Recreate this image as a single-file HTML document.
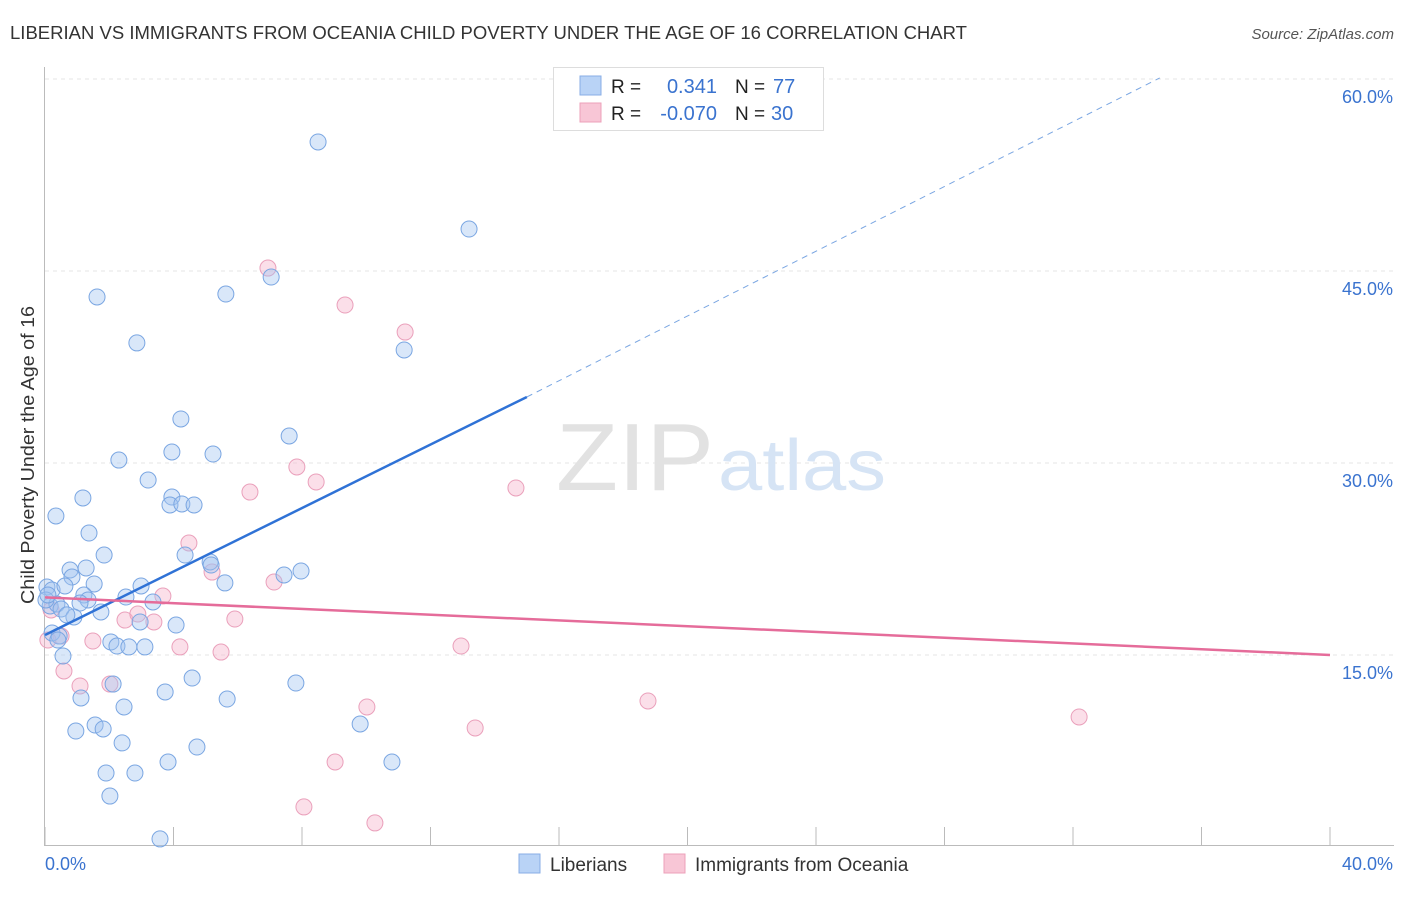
<!DOCTYPE html>
<html><head><meta charset="utf-8"><style>
body{margin:0;background:#fff;font-family:"Liberation Sans",sans-serif;}
svg text{font-family:"Liberation Sans",sans-serif;}
</style></head><body>
<svg id="chart" width="1406" height="892">
<text x="10" y="39" font-size="18" fill="#333" textLength="957" lengthAdjust="spacingAndGlyphs">LIBERIAN VS IMMIGRANTS FROM OCEANIA CHILD POVERTY UNDER THE AGE OF 16 CORRELATION CHART</text>
<text x="1394" y="39" font-size="15" fill="#555" font-style="italic" text-anchor="end">Source: ZipAtlas.com</text>
<text x="34" y="455" font-size="18" fill="#333" text-anchor="middle" textLength="298" lengthAdjust="spacingAndGlyphs" transform="rotate(-90 34 455)">Child Poverty Under the Age of 16</text>
<g id="grid"></g>
<text x="714" y="490" font-size="96" fill="#e2e2e2" text-anchor="end" font-family="Liberation Serif" textLength="158" lengthAdjust="spacingAndGlyphs">ZIP</text>
<text x="718" y="490" font-size="72" fill="#d6e4f5" textLength="168" lengthAdjust="spacingAndGlyphs">atlas</text>
<g id="marks"></g>
<g>
<rect x="553.5" y="67.5" width="270" height="63" fill="#fff" stroke="#ddd"/>
<rect x="580" y="76" width="21" height="19" fill="#b9d3f6" stroke="#88aee6"/>
<rect x="580" y="103" width="21" height="19" fill="#f8c6d6" stroke="#eca0ba"/>
<text x="611" y="93" font-size="19" fill="#222">R =</text>
<text x="717" y="93" font-size="20" fill="#3a73cf" text-anchor="end">0.341</text>
<text x="735" y="93" font-size="19" fill="#222">N =</text>
<text x="773" y="93" font-size="20" fill="#3a73cf">77</text>
<text x="611" y="120" font-size="19" fill="#222">R =</text>
<text x="717" y="120" font-size="20" fill="#3a73cf" text-anchor="end">-0.070</text>
<text x="735" y="120" font-size="19" fill="#222">N =</text>
<text x="771" y="120" font-size="20" fill="#3a73cf">30</text>
</g>
<g>
<rect x="519" y="854" width="21" height="19" fill="#b9d3f6" stroke="#88aee6"/>
<text x="550" y="871" font-size="19" fill="#333">Liberians</text>
<rect x="664" y="854" width="21" height="19" fill="#f8c6d6" stroke="#eca0ba"/>
<text x="695" y="871" font-size="19" fill="#333">Immigrants from Oceania</text>
</g>
</svg>
<script>
const yTicks=[15,30,45,60];
const yTickLabels=["15.0%","30.0%","45.0%","60.0%"];
const xEnds=[0,40];
const xEndLabels=["0.0%","40.0%"];
const bluePx=[[318,142],[469,229],[97,297],[226,294],[271,277],[137,343],[404,350],[181,419],[289,436],[172,452],[213,454],[119,460],[148,480],[83,498],[172,497],[170,505],[182,504],[194,505],[56,516],[89,533],[104,555],[185,555],[210,562],[211,565],[301,571],[284,575],[225,583],[70,570],[86,568],[72,577],[47,587],[52,590],[94,584],[65,586],[141,586],[126,597],[84,595],[88,600],[80,603],[153,602],[50,606],[57,604],[61,609],[101,612],[74,617],[67,615],[140,622],[176,625],[52,633],[59,636],[111,642],[117,646],[129,647],[145,647],[63,656],[192,678],[296,683],[113,684],[165,692],[81,698],[227,699],[124,707],[95,725],[103,729],[76,731],[360,724],[122,743],[197,747],[168,762],[392,762],[106,773],[135,773],[110,796],[160,839],[46,600],[48,595],[58,640]];
const pinkPx=[[268,268],[345,305],[405,332],[297,467],[316,482],[516,488],[250,492],[189,543],[212,572],[274,582],[163,596],[125,620],[154,622],[235,619],[138,614],[61,636],[48,640],[93,641],[180,647],[221,652],[461,646],[64,671],[80,686],[110,684],[648,701],[1079,717],[367,707],[475,728],[335,762],[304,807],[375,823],[51,610]];
const blueX=bluePx.map(p=>+((p[0]-45)/1285*40).toFixed(2));
const blueY=bluePx.map(p=>+((847-p[1])/192*15).toFixed(2));
const pinkX=pinkPx.map(p=>+((p[0]-45)/1285*40).toFixed(2));
const pinkY=pinkPx.map(p=>+((847-p[1])/192*15).toFixed(2));
const blueTrend=[0,16.56,15.0,35.16,34.7,60.08];
const pinkTrend=[0,19.5,40,15.0];
const sx=v=>45+v/40*1285, sy=v=>847-v/15*192;
const NS="http://www.w3.org/2000/svg";
function mk(tag,attrs,parent){const e=document.createElementNS(NS,tag);for(const k in attrs)e.setAttribute(k,attrs[k]);parent.appendChild(e);return e;}
const grid=document.getElementById('grid'),marks=document.getElementById('marks');
yTicks.forEach((t,i)=>{
 const l=mk('line',{x1:45,x2:1394,y1:sy(t),y2:sy(t),stroke:'#e6e6e6','stroke-dasharray':'4,4'},grid);
 
 
 const tx=mk('text',{x:1393,y:sy(t)+24,'font-size':18,fill:'#3a73cf','text-anchor':'end'},grid);tx.textContent=yTickLabels[i];
 
 
});
const ax=mk('line',{x1:45,x2:1394,y1:845.5,y2:845.5,stroke:'#bbb'},grid);


const ay=mk('line',{x1:44.5,x2:44.5,y1:67,y2:846,stroke:'#bbb'},grid);


for(let i=0;i<=10;i++){const t=mk('line',{x1:sx(i*4),x2:sx(i*4),y1:827,y2:846,stroke:'#bbb'},grid);
 
 }
xEnds.forEach((v,i)=>{const t=mk('text',{x:i?1393:45,y:870,'font-size':18,fill:'#3a73cf','text-anchor':i?'end':'start'},grid);t.textContent=xEndLabels[i];
 
 });
function dots(X,Y,fill,stroke,name){X.forEach((x,i)=>{const c=mk('circle',{cx:sx(x),cy:sy(Y[i]),r:8,fill:fill,stroke:stroke,'stroke-width':1},marks);
 
 });}
dots(pinkX,pinkY,'rgba(244,176,200,0.4)','#eaa0bb','oceania-point');
dots(blueX,blueY,'rgba(160,196,240,0.4)','#7aa6e2','liberian-point');
let l1=mk('line',{x1:sx(blueTrend[0]),y1:sy(blueTrend[1]),x2:sx(blueTrend[2]),y2:sy(blueTrend[3]),stroke:'#2f72d6','stroke-width':2.5},marks);


let l2=mk('line',{x1:sx(blueTrend[2]),y1:sy(blueTrend[3]),x2:sx(blueTrend[4]),y2:sy(blueTrend[5]),stroke:'#7aa6e2','stroke-width':1,'stroke-dasharray':'6,5'},marks);


let l3=mk('line',{x1:sx(pinkTrend[0]),y1:sy(pinkTrend[1]),x2:sx(pinkTrend[2]),y2:sy(pinkTrend[3]),stroke:'#e56c9a','stroke-width':2.5},marks);


</script>
</body></html>
